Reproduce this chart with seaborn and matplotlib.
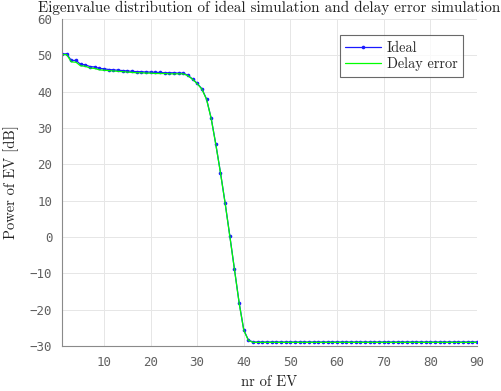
import matplotlib
matplotlib.use("Agg")
import matplotlib.pyplot as plt
import seaborn as sns
import pandas as pd

ev_index = list(range(1, 91))
ideal_db = [50.4, 50.4, 48.6, 48.6, 47.5, 47.4, 46.9, 46.8, 46.4, 46.3,
            46.1, 46.0, 45.9, 45.8, 45.7, 45.6, 45.5, 45.5, 45.4, 45.4,
            45.3, 45.3, 45.2, 45.2, 45.2, 45.1, 45.1, 44.5, 43.5, 42.3,
            40.8, 38.0, 32.7, 25.5, 17.7, 9.3, 0.3, -8.9, -18.1, -25.6,
            -28.4] + [-28.9] * 49
delay_db = [50.2, 50.2, 48.2, 48.1, 47.1, 47.0, 46.5, 46.4, 46.0, 45.9,
            45.8, 45.7, 45.6, 45.5, 45.4, 45.3, 45.2, 45.2, 45.1, 45.1,
            45.0, 45.0, 45.0, 44.9, 44.9, 44.9, 44.9, 44.4, 43.4, 42.2,
            40.7, 37.9, 32.6, 25.4, 17.6, 9.2, 0.2, -9.0, -18.2, -25.7,
            -28.5] + [-29.0] * 49

x_ticks = [10, 20, 30, 40, 50, 60, 70, 80, 90]
y_ticks = [-30, -20, -10, 0, 10, 20, 30, 40, 50, 60]

sns.set_style("white")
plt.rcParams['font.family'] = ['DejaVu Sans']

df = pd.DataFrame({"ev": ev_index * 2,
                   "power": ideal_db + delay_db,
                   "series": ["Ideal"] * 90 + ["Delay error"] * 90})

fig = plt.figure(figsize=(5.02, 3.91), dpi=100)
ax = fig.add_axes([0.1235, 0.1151, 0.8265, 0.8363])

sns.lineplot(data=df[df.series == "Ideal"], x="ev", y="power", ax=ax,
             color="#1a1aff", lw=0.9, marker="o", markersize=2.6,
             markeredgewidth=0, markerfacecolor="#1a1aff")
sns.lineplot(data=df[df.series == "Delay error"], x="ev", y="power", ax=ax,
             color="#00ff00", lw=0.9)

ax.set_xlim(1, 90)
ax.set_ylim(-30, 60)
ax.set_xticks(x_ticks)
ax.set_yticks(y_ticks)
ax.grid(True, color="#e6e6e6", lw=0.7)
ax.set_axisbelow(True)
for s in ["top", "right"]:
    ax.spines[s].set_visible(False)
for s in ["left", "bottom"]:
    ax.spines[s].set_color("#8a8a8a")
    ax.spines[s].set_linewidth(0.8)
ax.tick_params(direction="in", length=3, color="#8a8a8a", labelcolor="#606060",
               labelsize=9, pad=7)
for lab in ax.get_xticklabels() + ax.get_yticklabels():
    lab.set_fontfamily("DejaVu Sans Mono")

serif = "cmr10"
ax.set_title("Eigenvalue distribution of ideal simulation and delay error simulation",
             fontfamily=serif, fontsize=10.9, pad=5, color="#222222")
ax.set_xlabel("nr of EV", fontfamily=serif, fontsize=10.5, labelpad=5, color="#222222")
ax.set_ylabel("Power of EV [dB]", fontfamily=serif, fontsize=10.5, labelpad=8, color="#222222")

handles = [ax.lines[0], ax.lines[1]]
leg = ax.legend(handles, ["Ideal", "Delay error"], loc="upper right",
                bbox_to_anchor=(0.967, 0.95), frameon=True, fancybox=False,
                edgecolor="#444444", prop={"family": serif, "size": 10.3},
                handlelength=2.5, borderpad=0.4, labelspacing=0.15, handletextpad=0.4,
                borderaxespad=0)
leg.get_frame().set_linewidth(0.8)

fig.savefig("out.png", dpi=100)
